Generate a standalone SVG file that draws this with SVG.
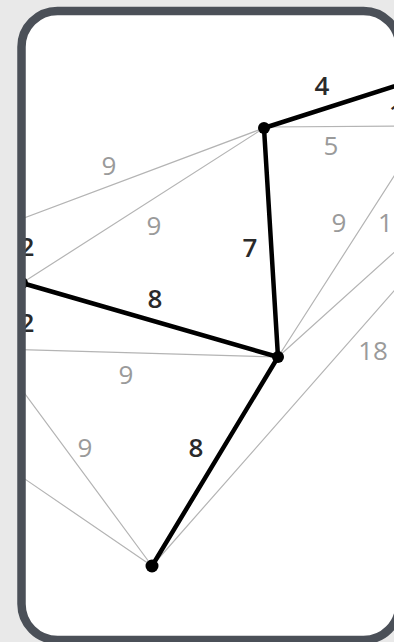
<svg xmlns="http://www.w3.org/2000/svg" width="394" height="642" viewBox="0 0 394 642">
  <defs>
    <clipPath id="inner">
      <rect x="21.5" y="11" width="378" height="629" rx="36" ry="36"/>
    </clipPath>
    <style>
      .thin { stroke: #b4b4b4; stroke-width: 1.2; fill: none; stroke-linecap: round; }
      .thick { stroke: #000; stroke-width: 4.5; fill: none; stroke-linecap: round; }
      .node { fill: #000; }
      .lbl { font-family: "Open Sans", "Liberation Sans", sans-serif; font-size: 26px; text-anchor: middle; }
      .light { fill: #9a9a9a; font-weight: 400; }
      .dark { fill: #2a2a2a; font-weight: 600; }
    </style>
  </defs>
  <rect x="0" y="0" width="394" height="642" fill="#e9e9e9"/>
  <rect x="21.5" y="11" width="378" height="629" rx="36" ry="36" fill="#ffffff"/>
  <g clip-path="url(#inner)">
    <g id="connectors">
      <line class="thin" x1="264" y1="128" x2="0" y2="227"/>
      <line class="thin" x1="264" y1="128" x2="22" y2="283"/>
      <line class="thin" x1="264" y1="127" x2="420" y2="126"/>
      <line class="thin" x1="278" y1="357" x2="0" y2="349"/>
      <line class="thin" x1="278" y1="357" x2="430" y2="120"/>
      <line class="thin" x1="278" y1="357" x2="430" y2="220"/>
      <line class="thin" x1="152" y1="566" x2="430" y2="250"/>
      <line class="thin" x1="152" y1="566" x2="0" y2="360"/>
      <line class="thin" x1="152" y1="566" x2="0" y2="462"/>
      <line class="thick" x1="264" y1="128" x2="420" y2="78"/>
      <line class="thick" x1="264" y1="128" x2="278" y2="357"/>
      <line class="thick" x1="22" y1="283" x2="278" y2="357"/>
      <line class="thick" x1="278" y1="357" x2="152" y2="566"/>
    </g>
    <g id="labels">
      <text class="lbl dark" x="322" y="95">4</text>
      <text class="lbl dark" x="389" y="122" text-anchor="start" style="text-anchor:start">1</text>
      <text class="lbl light" x="331" y="155">5</text>
      <text class="lbl light" x="109" y="175">9</text>
      <text class="lbl light" x="154" y="235">9</text>
      <text class="lbl dark" x="250" y="257">7</text>
      <text class="lbl light" x="339" y="232">9</text>
      <text class="lbl light" x="378" y="232" style="text-anchor:start">1</text>
      <text class="lbl dark" x="27" y="256">2</text>
      <text class="lbl dark" x="155" y="308">8</text>
      <text class="lbl dark" x="27" y="332">2</text>
      <text class="lbl light" x="126" y="384">9</text>
      <text class="lbl light" x="373" y="360">18</text>
      <text class="lbl light" x="85" y="457">9</text>
      <text class="lbl dark" x="196" y="457">8</text>
    </g>
    <g id="node-a"><circle class="node" cx="264" cy="128" r="6"/></g>
    <g id="node-b"><circle class="node" cx="400" cy="86" r="6"/></g>
    <g id="node-c"><circle class="node" cx="278" cy="357" r="6"/></g>
    <g id="node-d"><circle class="node" cx="22" cy="283" r="6"/></g>
    <g id="node-e"><circle class="node" cx="152" cy="566" r="6.5"/></g>
  </g>
  <rect x="21.5" y="11" width="378" height="629" rx="36" ry="36" fill="none" stroke="#4b5058" stroke-width="8.5"/>
</svg>
